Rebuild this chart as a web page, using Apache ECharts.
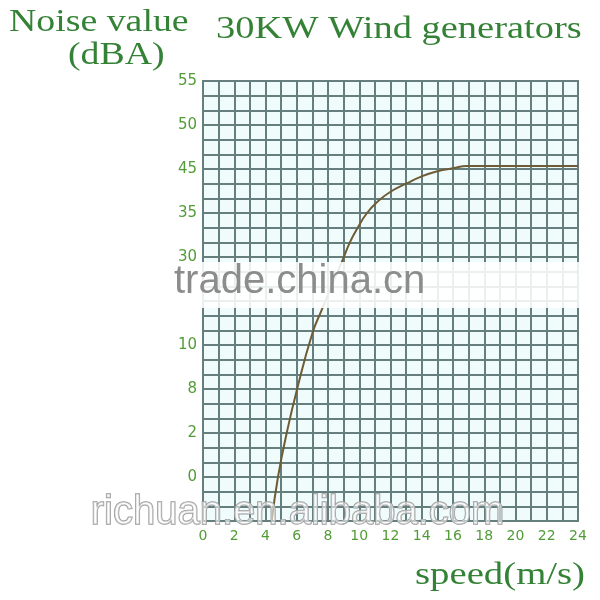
<!DOCTYPE html>
<html><head><meta charset="utf-8">
<script src="https://cdn.jsdelivr.net/npm/echarts@6/dist/echarts.min.js"></script>
<style>html,body{margin:0;padding:0;background:#fff}#c{width:600px;height:600px}</style>
</head><body><div id="c"></div>
<script>
// wind speed (m/s)
const speed = [4.4, 4.8, 5.4, 6.0, 7.0, 7.6, 8.3, 8.9, 9.4, 9.9, 10.5, 11.2, 12.0, 13.0, 14.0, 15.0, 16.0, 16.9, 24];
// noise curve, in grid rows counted from the bottom of the chart
const noiseRow = [0, 3.0, 6.2, 8.9, 12.8, 14.4, 16.2, 17.7, 19.0, 20.0, 21.0, 21.8, 22.45, 23.0, 23.5, 23.85, 24.05, 24.2, 24.2];
// y tick labels, one every 3 grid rows (bottom to top)
const yTickLabels = ['', '0', '2', '8', '10', '', '30', '35', '45', '50', '55'];
// x tick labels every 2 m/s
const xTickLabels = ['0','2','4','6','8','10','12','14','16','18','20','22','24'];

const gridColor = '#647f7d';
const labelGreen = '#529c38';
const titleGreen = '#348236';

const chart = echarts.init(document.getElementById('c'));
chart.setOption({
  animation: false,
  backgroundColor: '#ffffff',
  grid: {left: 203, right: 22, top: 81, bottom: 79, show: true, backgroundColor: '#f0fbfb', borderColor: gridColor, borderWidth: 2},
  xAxis: {
    type: 'value', min: 0, max: 24, interval: 1,
    axisLine: {show: true, lineStyle: {color: gridColor, width: 2}},
    axisTick: {show: false},
    splitLine: {show: true, lineStyle: {color: gridColor, width: 2}},
    axisLabel: {color: labelGreen, fontSize: 14, fontFamily: 'DejaVu Sans', margin: 8,
      formatter: v => (v % 2 === 0 ? xTickLabels[v / 2] : '')}
  },
  yAxis: {
    type: 'value', min: 0, max: 30, interval: 1,
    axisLine: {show: true, lineStyle: {color: gridColor, width: 2}},
    axisTick: {show: false},
    splitLine: {show: true, lineStyle: {color: gridColor, width: 2}},
    axisLabel: {color: labelGreen, fontSize: 15, fontFamily: 'DejaVu Sans', margin: 6,
      formatter: v => (v % 3 === 0 ? yTickLabels[v / 3] : '')}
  },
  series: [{
    type: 'line', data: speed.map((s, i) => [s, noiseRow[i]]),
    smooth: 0.5, showSymbol: false,
    lineStyle: {color: '#6e5c36', width: 2}
  }],
  graphic: [
    {type: 'text', left: 9, top: 7, z: 100, scaleX: 1.22, style: {text: 'Noise value', font: '31px "Liberation Serif"', fill: titleGreen}},
    {type: 'text', left: 68, top: 40, z: 100, scaleX: 1.22, style: {text: '(dBA)', font: '31px "Liberation Serif"', fill: titleGreen}},
    {type: 'text', left: 216, top: 14, z: 100, scaleX: 1.24, style: {text: '30KW Wind generators', font: '31px "Liberation Serif"', fill: titleGreen}},
    {type: 'text', left: 415, top: 560, z: 100, scaleX: 1.25, style: {text: 'speed(m/s)', font: '31px "Liberation Serif"', fill: titleGreen}},
    {type: 'rect', z: 90, shape: {x: 170, y: 262, width: 430, height: 46}, style: {fill: 'rgba(255,255,255,0.88)'}},
    {type: 'text', left: 174, top: 262, z: 95, style: {text: 'trade.china.cn', font: '40px "Liberation Sans"', fill: '#8c8c8c'}},
    {type: 'text', left: 90, top: 492, z: 95, style: {text: 'richuan.en.alibaba.com', font: '40px "Liberation Sans"', fill: 'rgba(255,255,255,0.55)', stroke: '#9a9a9a', lineWidth: 1.5}}
  ]
});
</script></body></html>
